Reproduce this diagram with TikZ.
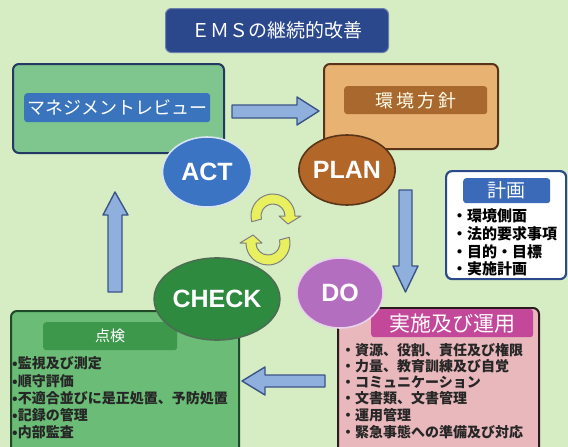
\documentclass[tikz,border=0pt]{standalone}
\usepackage{fontspec}
\newfontfamily\jp{Noto Sans CJK JP}
\newfontfamily\lab{Liberation Sans}
\usetikzlibrary{shapes.geometric,calc}
\definecolor{bg}{RGB}{214,236,194}
\definecolor{navy}{RGB}{36,56,100}
\definecolor{titleblue}{RGB}{44,72,140}
\definecolor{actfill}{RGB}{126,198,142}
\definecolor{actbar}{RGB}{58,116,188}
\definecolor{planfill}{RGB}{232,178,114}
\definecolor{planline}{RGB}{90,52,24}
\definecolor{planbar}{RGB}{168,104,46}
\definecolor{actcirc}{RGB}{60,116,196}
\definecolor{plancirc}{RGB}{178,102,40}
\definecolor{checkcirc}{RGB}{46,138,62}
\definecolor{docirc}{RGB}{180,110,192}
\definecolor{checkfill}{RGB}{106,188,118}
\definecolor{checkline}{RGB}{30,74,40}
\definecolor{checkbar}{RGB}{62,152,76}
\definecolor{dofill}{RGB}{232,184,188}
\definecolor{doline}{RGB}{42,28,28}
\definecolor{dobar}{RGB}{196,72,154}
\definecolor{keiline}{RGB}{42,74,138}
\definecolor{keibar}{RGB}{58,106,184}
\definecolor{arrfill}{RGB}{143,176,220}
\definecolor{arrline}{RGB}{58,84,136}
\definecolor{cyc}{RGB}{232,240,96}
\tikzset{
  box/.style={rectangle, rounded corners=6pt, line width=2pt, anchor=north west, inner sep=0pt},
  bar/.style={rectangle, rounded corners=3pt, anchor=north west, inner sep=0pt, text=white},
  phase/.style={ellipse, line width=1.6pt, text=white, font=\lab\bfseries\fontsize{25}{25}\selectfont, inner sep=0pt},
  item/.style={anchor=west, inner sep=0pt, font=\jp\bfseries\fontsize{14}{14}\selectfont, text=black!85},
  kitem/.style={anchor=west, inner sep=0pt, font=\jp\bfseries\fontsize{15}{15}\selectfont, text=black},
  blockarrow/.style={fill=arrfill, draw=arrline, line width=1.4pt, line join=round},
  cycarrow/.style={fill=cyc, draw=gray, line width=1pt, line join=round}
}
\begin{document}
\begin{tikzpicture}[x=1pt,y=-1pt]
\useasboundingbox (0,0) rectangle (568,447);
\clip (0,0) rectangle (568,447);
\fill[bg] (0,0) rectangle (568,447);

% title
\node[box, fill=titleblue, draw=titleblue!70!white, line width=1pt, minimum width=223pt, minimum height=44pt] (title) at (165,8) {};
\node[text=white, font=\jp\fontsize{19}{19}\selectfont] (titletext) at (title.center) {ＥＭＳの継続的改善};

% ACT box
\node[box, fill=actfill, draw=navy, minimum width=211pt, minimum height=89pt] (actbox) at (12,63) {};
\node[bar, fill=actbar, minimum width=186pt, minimum height=29pt] (actbar) at (24,93) {};
\node[text=white, font=\jp\fontsize{18}{18}\selectfont] (acttext) at (actbar.center) {マネジメントレビュー};

% PLAN box
\node[box, fill=planfill, draw=planline, minimum width=174pt, minimum height=85pt] (planbox) at (323,63) {};
\node[bar, fill=planbar, minimum width=143pt, minimum height=28pt] (planbar) at (344,86) {};
\node[text=white!92!yellow, font=\jp\fontsize{18}{18}\selectfont] (plantext) at (planbar.center) {環\,境\,方\,針};

% keikaku box
\node[box, fill=white, draw=keiline, line width=2.2pt, minimum width=120pt, minimum height=108pt] (keibox) at (445,170) {};
\node[bar, fill=keibar, minimum width=87pt, minimum height=25pt] (keibar) at (463,178) {};
\node[text=white, font=\jp\fontsize{19}{19}\selectfont] (keitext) at (keibar.center) {計画};
\node[kitem] (k1) at (452,216) {・環境側面};
\node[kitem] (k2) at (452,234) {・法的要求事項};
\node[kitem] (k3) at (452,252) {・目的・目標};
\node[kitem] (k4) at (452,269) {・実施計画};

% CHECK box
\node[box, fill=checkfill, draw=checkline, minimum width=228pt, minimum height=150pt] (checkbox) at (10,310) {};
\node[bar, fill=checkbar, minimum width=134pt, minimum height=28pt] (checkbar) at (43,322) {};
\node[text=white, font=\jp\fontsize{15}{15}\selectfont] (checktext) at (checkbar.center) {点検};
\node[item] (c1) at (12,363) {•監視及び測定};
\node[item] (c2) at (12,381) {•順守評価};
\node[item] (c3) at (12,398) {•不適合並びに是正処置、予防処置};
\node[item] (c4) at (12,415) {•記録の管理};
\node[item] (c5) at (12,432) {•内部監査};

% DO box
\node[box, fill=dofill, draw=doline, minimum width=201pt, minimum height=150pt] (dobox) at (337,307) {};
\node[bar, fill=dobar, minimum width=162pt, minimum height=28pt] (dobar) at (371,309) {};
\node[text=white, font=\jp\fontsize{21}{21}\selectfont] (dotext) at (dobar.center) {実施及び運用};
\node[item] (d1) at (341,350) {・資源、役割、責任及び権限};
\node[item] (d2) at (341,366) {・力量、教育訓練及び自覚};
\node[item] (d3) at (341,382) {・コミュニケーション};
\node[item] (d4) at (341,398) {・文書類、文書管理};
\node[item] (d5) at (341,415) {・運用管理};
\node[item] (d6) at (341,432) {・緊急事態への準備及び対応};

% block arrows
\draw[blockarrow] (232,105) -- (297,105) -- (297,97) -- (319,111) -- (297,125) -- (297,118) -- (232,118) -- cycle;
\draw[blockarrow] (399,190) -- (412,190) -- (412,266) -- (418,266) -- (405.5,292) -- (393,266) -- (399,266) -- cycle;
\draw[blockarrow] (325,375) -- (265,375) -- (265,367) -- (242,381) -- (265,395) -- (265,387) -- (325,387) -- cycle;
\draw[blockarrow] (108,292) -- (108,215) -- (103,215) -- (115,192) -- (128,215) -- (122,215) -- (122,292) -- cycle;

% phase ellipses
\node[phase, fill=actcirc, draw=white!80!actcirc, minimum width=89pt, minimum height=70pt] (act) at (207,172) {ACT};
\node[phase, fill=plancirc, draw=planline, minimum width=85pt, minimum height=70pt] (plan) at (347,170) {PLAN};
\node[phase, fill=checkcirc, draw=checkline!80, minimum width=101pt, minimum height=82pt] (check) at (217,299) {CHECK};
\node[phase, fill=docirc, draw=white!70!docirc, minimum width=86pt, minimum height=70pt] (do) at (340,293) {DO};

% cycle arrows
\coordinate (ca) at (273,216);
\coordinate (cb) at (268,243);
\draw[cycarrow] ($(ca)+(-195:22)$) arc[start angle=-195,end angle=0,radius=22]
  -- ($(ca)+(0:28)$) -- ($(ca)+(28:17)$) -- ($(ca)+(0:6)$) -- ($(ca)+(0:12)$)
  arc[start angle=0,end angle=-195,radius=12] -- cycle;
\draw[cycarrow] ($(cb)+(-15:22)$) arc[start angle=-15,end angle=180,radius=22]
  -- ($(cb)+(180:28)$) -- ($(cb)+(208:17)$) -- ($(cb)+(180:6)$) -- ($(cb)+(180:12)$)
  arc[start angle=180,end angle=-15,radius=12] -- cycle;
\end{tikzpicture}
\end{document}
